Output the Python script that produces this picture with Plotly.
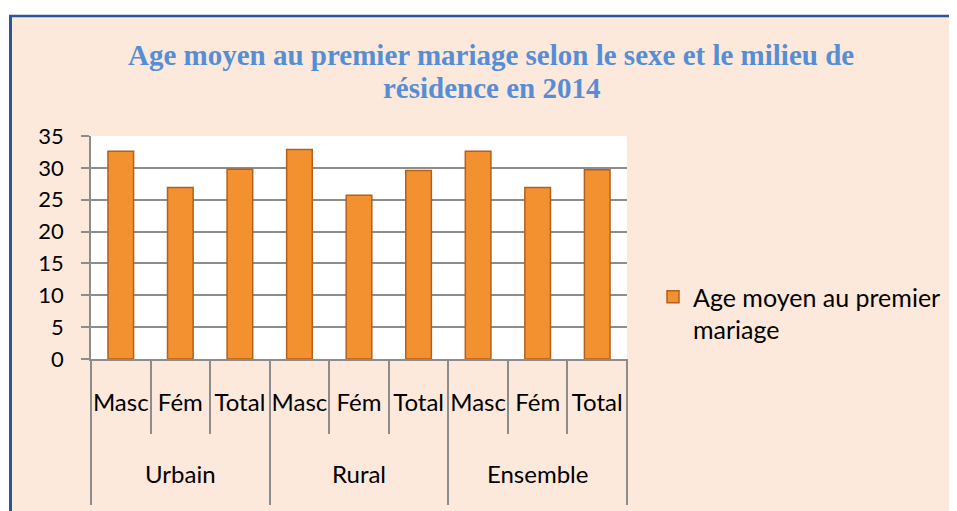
import plotly.graph_objects as go

# ---- data ----
milieux = ["Urbain", "Rural", "Ensemble"]
sexes = ["Masc", "Fém", "Total"]
age_moyen = [32.6, 26.9, 29.8, 32.9, 25.7, 29.6, 32.6, 26.9, 29.7]
series_name = "Age moyen au premier<br>mariage"
title_lines = ["Age moyen au premier mariage selon le sexe et le milieu de",
               "résidence en 2014"]
y_ticks = [0, 5, 10, 15, 20, 25, 30, 35]

outer = [m for m in milieux for _ in sexes]
inner = [s for _ in milieux for s in sexes]
n_cat = len(inner)
n_sub = len(sexes)
inner_pos = list(range(n_cat))
outer_pos = [i * n_sub + (n_sub - 1) / 2 for i in range(len(milieux))]

# page body has an 8px margin: figure drawn at (8, 8)
O = 8
SW, SH = 957, 511
W, H = SW - O, SH - O
Ls, Rs, Ts, Bs = 91, 627, 136, 359  # value plot area in screen px
Bfull = 505  # bottom of the axis-label area in screen px


def px(xs):
    return (xs - Ls) / (Rs - Ls)


def py(ys):  # paper y (paper spans Ts..Bfull)
    return (Bfull - ys) / (Bfull - Ts)


font_ui = "Lato, Calibri, Carlito, sans-serif"
grid_col = "#8C8C8C"
frame_col = "#2C5592"

fig = go.Figure()
fig.add_trace(go.Bar(
    x=[outer, inner],
    y=age_moyen,
    name=series_name,
    width=0.43,
    marker=dict(color="#F39130", line=dict(color="#B2601C", width=1.5)),
    showlegend=True,
))
# invisible carriers so the label axes are drawn
fig.add_trace(go.Scatter(x=inner_pos, y=[0] * n_cat, xaxis="x2", yaxis="y", mode="markers",
                         marker=dict(opacity=0), showlegend=False, hoverinfo="skip"))
fig.add_trace(go.Scatter(x=outer_pos, y=[0] * len(outer_pos), xaxis="x3", yaxis="y", mode="markers",
                         marker=dict(opacity=0), showlegend=False, hoverinfo="skip"))

shapes = [
    dict(type="rect", xref="paper", yref="paper", x0=px(0), x1=px(SW + 20), y0=py(0), y1=py(15),
         fillcolor="white", line=dict(width=0), layer="above"),
    dict(type="rect", xref="paper", yref="paper", x0=px(0), x1=px(9), y0=py(0), y1=py(SH + 20),
         fillcolor="white", line=dict(width=0), layer="above"),
    dict(type="line", xref="paper", yref="paper", x0=px(9), x1=px(SW + 20), y0=py(16), y1=py(16),
         line=dict(color=frame_col, width=2.5), layer="above"),
    dict(type="line", xref="paper", yref="paper", x0=px(10.5), x1=px(10.5), y0=py(15), y1=py(SH + 20),
         line=dict(color=frame_col, width=3), layer="above"),
]

title_font = dict(family="Liberation Serif, Times New Roman, serif", size=29, color="#558ED5", weight="bold")
annotations = [
    dict(text=title_lines[0], xref="paper", yref="paper", x=px(490.5), y=py(55),
         xanchor="center", yanchor="middle", showarrow=False, font=title_font),
    dict(text=title_lines[1], xref="paper", yref="paper", x=px(491), y=py(88),
         xanchor="center", yanchor="middle", showarrow=False, font=title_font),
]

tick_font = dict(family=font_ui, size=22, color="black")
cat_font = dict(family=font_ui, size=24, color="black")

fig.update_layout(
    width=W, height=H,
    margin=dict(l=Ls - O, r=W - (Rs - O), t=Ts - O, b=H - (Bfull - O), pad=0, autoexpand=False),
    paper_bgcolor="#FDE9DB",
    plot_bgcolor="white",
    legend=dict(
        x=px(645 + O), xanchor="left", y=py(274), yanchor="top",
        font=dict(family=font_ui, size=25, color="black"),
        valign="top", bgcolor="rgba(0,0,0,0)", itemwidth=30,
    ),
    shapes=shapes,
    annotations=annotations,
    bargap=0.57,
    yaxis=dict(
        domain=[py(Bs), 1],
        range=[0, 35], tickvals=y_ticks,
        showgrid=True, gridcolor=grid_col, gridwidth=1.5,
        showline=True, linecolor=grid_col, linewidth=1.5,
        ticks="outside", ticklen=8, tickcolor=grid_col, tickwidth=1.5,
        tickfont=tick_font,
        ticklabelstandoff=13,
        zeroline=False,
    ),
    # bars: multicategory axis, draws the short boundary ticks
    xaxis=dict(
        type="multicategory", anchor="y",
        showline=True, linecolor=grid_col, linewidth=1.5,
        ticks="outside", tickson="boundaries", ticklen=73,
        tickcolor=grid_col, tickwidth=1.5,
        showticklabels=False, showdividers=False,
    ),
    # inner labels (sexe)
    xaxis2=dict(
        overlaying="x", anchor="y", side="bottom",
        range=[-0.5, n_cat - 0.5],
        tickmode="array", tickvals=inner_pos, ticktext=inner,
        ticks="", showgrid=False, zeroline=False, showline=False,
        tickfont=cat_font, tickangle=0,
        ticklabelstandoff=27,
    ),
    # outer labels (milieu) + group dividers
    xaxis3=dict(
        overlaying="x", anchor="free", position=0, side="bottom",
        range=[-0.5, n_cat - 0.5],
        tickmode="array", tickvals=outer_pos, ticktext=milieux,
        ticks="", showgrid=False, zeroline=False, showline=False,
        ticklabelposition="inside",
        tickfont=cat_font, tickangle=0,
        ticklabelstandoff=14,
        minor=dict(tick0=-0.5, dtick=n_sub, ticks="inside", ticklen=Bfull - Bs,
                   tickcolor=grid_col, tickwidth=1.5, showgrid=False),
    ),
)

fig.write_html("out.html")
